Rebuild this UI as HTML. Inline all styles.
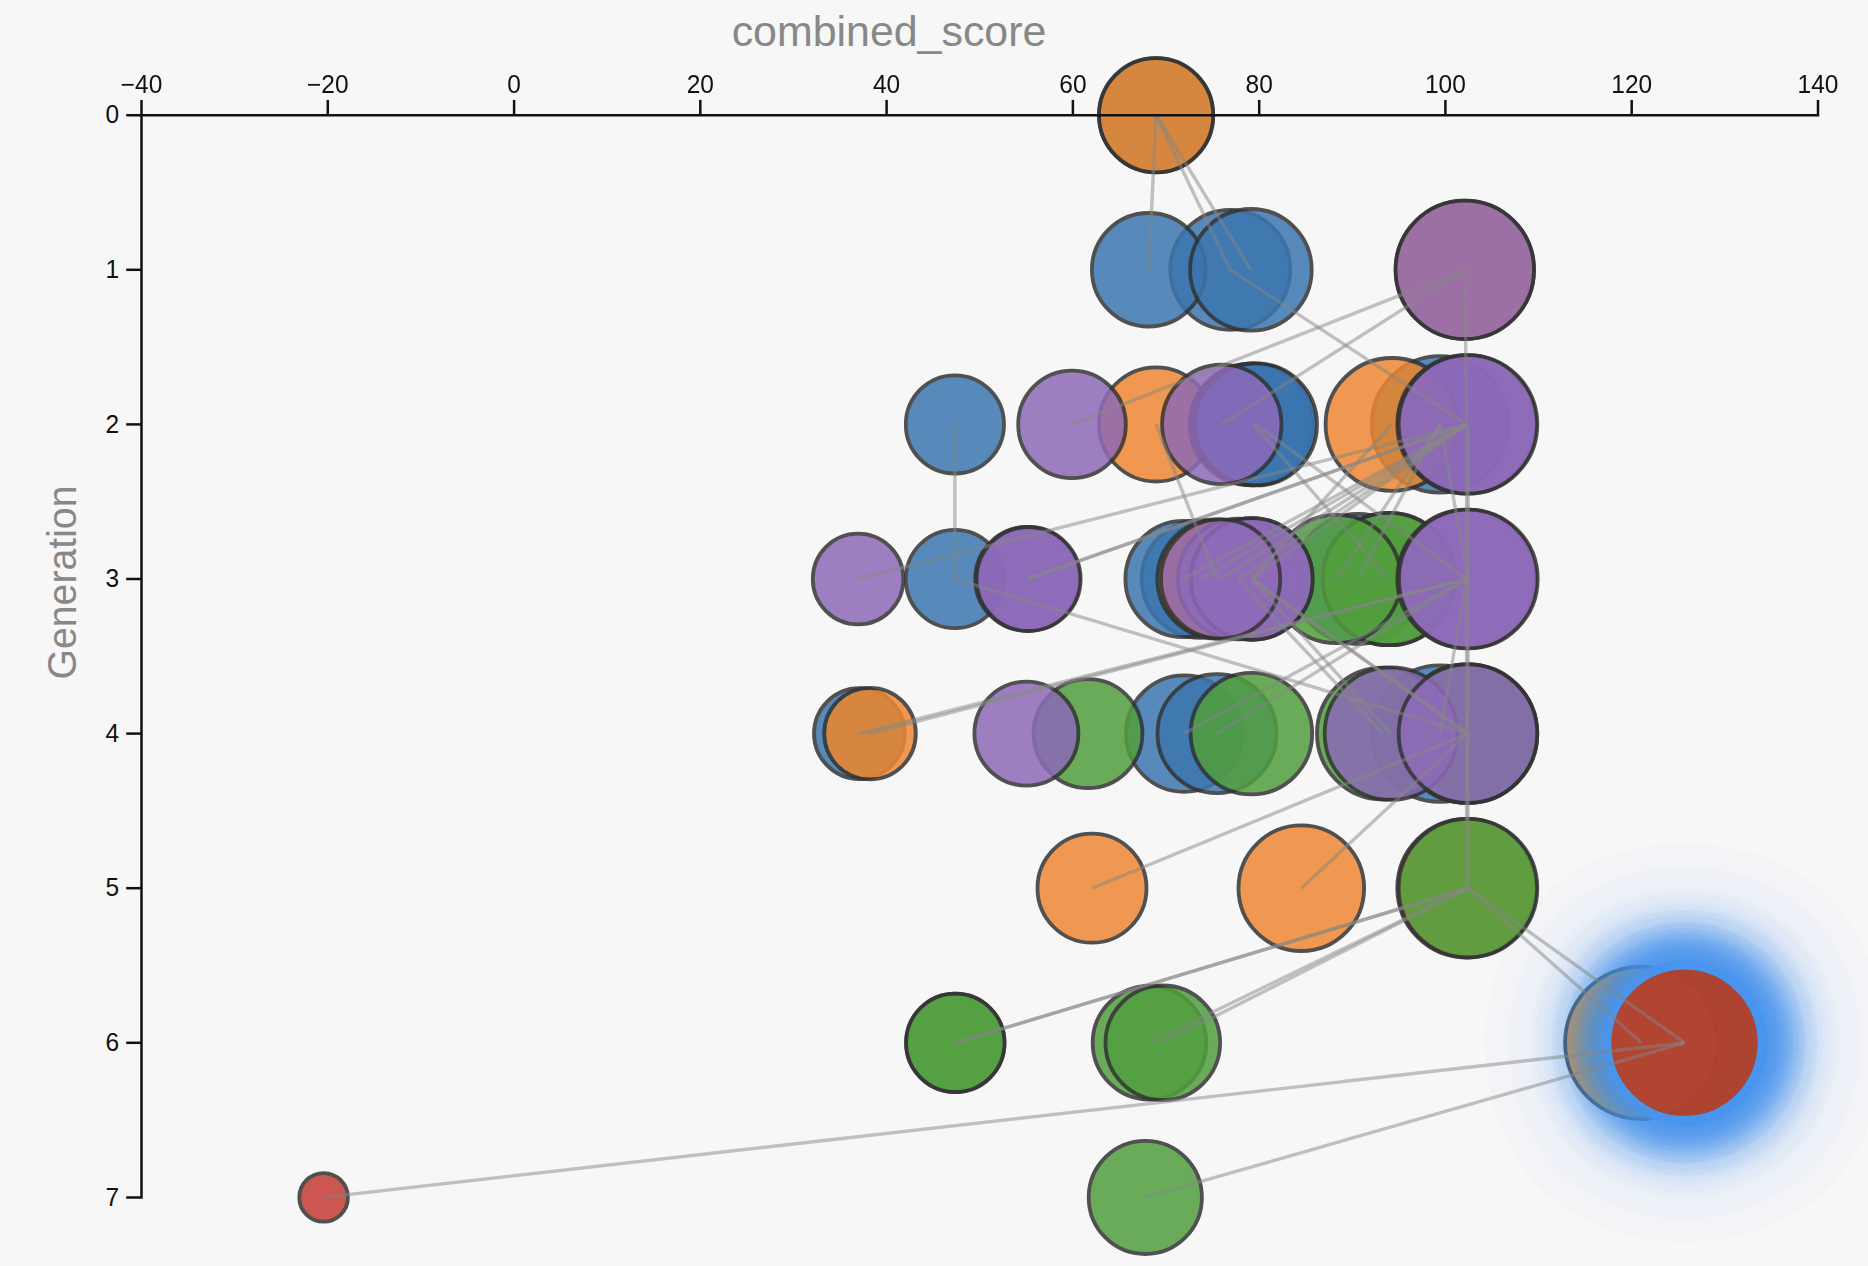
<!DOCTYPE html>
<html><head><meta charset="utf-8"><title>combined_score</title>
<style>
html,body{margin:0;padding:0;background:#f7f7f7;}
body{width:1868px;height:1266px;overflow:hidden;}
svg{display:block;font-family:"Liberation Sans",Arial,Helvetica,sans-serif;}
.tick{font-size:24.5px;fill:#111;}
.lab{font-size:42.9px;fill:#888;}
.node{stroke:#333;stroke-width:3.80;opacity:0.85;}
.edge{stroke:#888;stroke-width:3.40;opacity:0.5;}
.ax{stroke:#111;stroke-width:2.5;fill:none;}
</style></head><body>
<svg width="1868" height="1266" viewBox="0 0 1868 1266">
<defs>
<filter id="p3" x="0" y="0" width="1868" height="1266" filterUnits="userSpaceOnUse" color-interpolation-filters="linearRGB">
<feColorMatrix type="matrix" values="0.8224621 0.1775380 0 0 0  0.0331941 0.9668058 0 0 0  0.0170827 0.0723974 0.9105199 0 0  0 0 0 1 0"/>
</filter>
<filter id="glow" x="1200" y="600" width="900" height="900" filterUnits="userSpaceOnUse" color-interpolation-filters="sRGB">
<feGaussianBlur in="SourceAlpha" stdDeviation="24" result="b1"/>
<feFlood flood-color="#2196f3" result="fc"/>
<feComposite in="fc" in2="b1" operator="in" result="s1"/>
<feMerge result="m1"><feMergeNode in="s1"/><feMergeNode in="SourceGraphic"/></feMerge>
<feGaussianBlur in="m1" stdDeviation="26" result="b2"/>
<feComposite in="fc" in2="b2" operator="in" result="s2"/>
<feGaussianBlur in="SourceAlpha" stdDeviation="75" result="b3"/>
<feComponentTransfer in="b3" result="b3a"><feFuncA type="linear" slope="0.3"/></feComponentTransfer>
<feComposite in="fc" in2="b3a" operator="in" result="s3"/>
<feMerge><feMergeNode in="s3"/><feMergeNode in="s2"/><feMergeNode in="m1"/></feMerge>
</filter>
</defs>
<rect width="1868" height="1266" fill="#f7f7f7"/>
<g filter="url(#p3)">

<circle class="node" cx="1156.1" cy="115.2" r="57.1" fill="#1f77b4"/>
<circle class="node" cx="1156.1" cy="115.2" r="57.1" fill="#ff7f0e"/>
<circle class="node" cx="1230.3" cy="269.8" r="60.0" fill="#1f77b4"/>
<circle class="node" cx="1148.7" cy="269.8" r="56.8" fill="#1f77b4"/>
<circle class="node" cx="1250.9" cy="269.8" r="60.8" fill="#1f77b4"/>
<circle class="node" cx="1464.8" cy="269.8" r="69.2" fill="#ff7f0e"/>
<circle class="node" cx="1464.8" cy="269.8" r="69.2" fill="#9467bd"/>
<circle class="node" cx="954.9" cy="424.4" r="49.1" fill="#1f77b4"/>
<circle class="node" cx="1156.1" cy="424.4" r="57.1" fill="#ff7f0e"/>
<circle class="node" cx="1072.0" cy="424.4" r="53.8" fill="#9467bd"/>
<circle class="node" cx="1250.5" cy="424.4" r="60.8" fill="#1f77b4"/>
<circle class="node" cx="1253.5" cy="424.4" r="60.9" fill="#1f77b4"/>
<circle class="node" cx="1256.0" cy="424.4" r="61.0" fill="#1f77b4"/>
<circle class="node" cx="1221.8" cy="424.4" r="59.7" fill="#9467bd"/>
<circle class="node" cx="1440.0" cy="424.4" r="68.2" fill="#1f77b4"/>
<circle class="node" cx="1392.0" cy="424.4" r="66.4" fill="#ff7f0e"/>
<circle class="node" cx="1466.6" cy="424.4" r="69.3" fill="#9467bd"/>
<circle class="node" cx="1468.0" cy="424.4" r="69.3" fill="#9467bd"/>
<circle class="node" cx="858.1" cy="579.0" r="45.3" fill="#9467bd"/>
<circle class="node" cx="954.9" cy="579.0" r="49.1" fill="#1f77b4"/>
<circle class="node" cx="1027.2" cy="579.0" r="52.0" fill="#9467bd"/>
<circle class="node" cx="1028.6" cy="579.0" r="52.0" fill="#9467bd"/>
<circle class="node" cx="1200.5" cy="579.0" r="58.8" fill="#1f77b4"/>
<circle class="node" cx="1183.5" cy="579.0" r="58.1" fill="#1f77b4"/>
<circle class="node" cx="1358.0" cy="579.0" r="65.0" fill="#1f77b4"/>
<circle class="node" cx="1389.0" cy="579.0" r="66.2" fill="#2ca02c"/>
<circle class="node" cx="1389.0" cy="579.0" r="66.2" fill="#2ca02c"/>
<circle class="node" cx="1336.5" cy="579.0" r="64.2" fill="#2ca02c"/>
<circle class="node" cx="1216.8" cy="579.0" r="59.5" fill="#ff7f0e"/>
<circle class="node" cx="1238.3" cy="579.0" r="60.3" fill="#9467bd"/>
<circle class="node" cx="1251.8" cy="579.0" r="60.8" fill="#9467bd"/>
<circle class="node" cx="1251.8" cy="579.0" r="60.8" fill="#9467bd"/>
<circle class="node" cx="1220.6" cy="579.0" r="59.6" fill="#9467bd"/>
<circle class="node" cx="1466.6" cy="579.0" r="69.3" fill="#9467bd"/>
<circle class="node" cx="1468.3" cy="579.0" r="69.4" fill="#9467bd"/>
<circle class="node" cx="859.4" cy="733.6" r="45.4" fill="#1f77b4"/>
<circle class="node" cx="870.0" cy="733.6" r="45.8" fill="#ff7f0e"/>
<circle class="node" cx="1184.2" cy="733.6" r="58.2" fill="#1f77b4"/>
<circle class="node" cx="1088.0" cy="733.6" r="54.4" fill="#2ca02c"/>
<circle class="node" cx="1026.4" cy="733.6" r="52.0" fill="#9467bd"/>
<circle class="node" cx="1217.0" cy="733.6" r="59.5" fill="#1f77b4"/>
<circle class="node" cx="1251.4" cy="733.6" r="60.8" fill="#2ca02c"/>
<circle class="node" cx="1440.0" cy="733.6" r="68.2" fill="#1f77b4"/>
<circle class="node" cx="1466.6" cy="733.6" r="69.3" fill="#9467bd"/>
<circle class="node" cx="1468.0" cy="733.6" r="69.3" fill="#2ca02c"/>
<circle class="node" cx="1383.0" cy="733.6" r="66.0" fill="#2ca02c"/>
<circle class="node" cx="1391.0" cy="733.6" r="66.3" fill="#9467bd"/>
<circle class="node" cx="1468.0" cy="733.6" r="69.3" fill="#9467bd"/>
<circle class="node" cx="1092.0" cy="888.2" r="54.5" fill="#ff7f0e"/>
<circle class="node" cx="1301.3" cy="888.2" r="62.8" fill="#ff7f0e"/>
<circle class="node" cx="1466.6" cy="888.2" r="69.3" fill="#ff7f0e"/>
<circle class="node" cx="1468.0" cy="888.2" r="69.3" fill="#2ca02c"/>
<circle class="node" cx="955.3" cy="1042.8" r="49.2" fill="#2ca02c"/>
<circle class="node" cx="955.3" cy="1042.8" r="49.2" fill="#2ca02c"/>
<circle class="node" cx="1149.5" cy="1042.8" r="56.8" fill="#2ca02c"/>
<circle class="node" cx="1162.8" cy="1042.8" r="57.3" fill="#2ca02c"/>
<g opacity="0.85"><circle filter="url(#glow)" cx="1684.5" cy="1042.8" r="77.9" fill="#2ca02c" stroke="#2196f3" stroke-width="9.8"/></g>
<circle class="node" cx="1641.3" cy="1042.8" r="76.2" fill="#ff7f0e"/>
<g opacity="0.85"><circle filter="url(#glow)" cx="1684.5" cy="1042.8" r="77.9" fill="#2ca02c" stroke="#2196f3" stroke-width="9.8"/></g>
<g opacity="0.85"><circle filter="url(#glow)" cx="1684.5" cy="1042.8" r="77.9" fill="#d62728" stroke="#2196f3" stroke-width="9.8"/></g>
<circle class="node" cx="323.6" cy="1197.4" r="24.3" fill="#d62728"/>
<circle class="node" cx="1145.3" cy="1197.4" r="56.6" fill="#2ca02c"/>
<line class="edge" x1="1148.7" y1="269.8" x2="1156.1" y2="115.2"/>
<line class="edge" x1="1230.3" y1="269.8" x2="1156.1" y2="115.2"/>
<line class="edge" x1="1250.9" y1="269.8" x2="1156.1" y2="115.2"/>
<line class="edge" x1="1072.0" y1="424.4" x2="1464.8" y2="269.8"/>
<line class="edge" x1="1221.8" y1="424.4" x2="1464.8" y2="269.8"/>
<line class="edge" x1="1466.6" y1="424.4" x2="1464.8" y2="269.8"/>
<line class="edge" x1="1466.6" y1="424.4" x2="1230.3" y2="269.8"/>
<line class="edge" x1="858.1" y1="579.0" x2="1466.6" y2="424.4"/>
<line class="edge" x1="954.9" y1="579.0" x2="954.9" y2="424.4"/>
<line class="edge" x1="1027.2" y1="579.0" x2="1466.6" y2="424.4"/>
<line class="edge" x1="1028.6" y1="579.0" x2="1466.6" y2="424.4"/>
<line class="edge" x1="1183.5" y1="579.0" x2="1466.6" y2="424.4"/>
<line class="edge" x1="1200.5" y1="579.0" x2="1466.6" y2="424.4"/>
<line class="edge" x1="1216.8" y1="579.0" x2="1156.1" y2="424.4"/>
<line class="edge" x1="1220.6" y1="579.0" x2="1466.6" y2="424.4"/>
<line class="edge" x1="1238.3" y1="579.0" x2="1466.6" y2="424.4"/>
<line class="edge" x1="1251.8" y1="579.0" x2="1392.0" y2="424.4"/>
<line class="edge" x1="1251.8" y1="579.0" x2="1466.6" y2="424.4"/>
<line class="edge" x1="1336.5" y1="579.0" x2="1440.0" y2="424.4"/>
<line class="edge" x1="1358.0" y1="579.0" x2="1440.0" y2="424.4"/>
<line class="edge" x1="1389.0" y1="579.0" x2="1253.5" y2="424.4"/>
<line class="edge" x1="1466.6" y1="579.0" x2="1466.6" y2="424.4"/>
<line class="edge" x1="1468.3" y1="579.0" x2="1468.0" y2="424.4"/>
<line class="edge" x1="1468.3" y1="579.0" x2="1440.0" y2="424.4"/>
<line class="edge" x1="1466.6" y1="579.0" x2="1256.0" y2="424.4"/>
<line class="edge" x1="859.4" y1="733.6" x2="1466.6" y2="579.0"/>
<line class="edge" x1="870.0" y1="733.6" x2="1466.6" y2="579.0"/>
<line class="edge" x1="1184.2" y1="733.6" x2="1466.6" y2="579.0"/>
<line class="edge" x1="1217.0" y1="733.6" x2="1466.6" y2="579.0"/>
<line class="edge" x1="1383.0" y1="733.6" x2="1238.3" y2="579.0"/>
<line class="edge" x1="1391.0" y1="733.6" x2="1251.8" y2="579.0"/>
<line class="edge" x1="1440.0" y1="733.6" x2="1466.6" y2="579.0"/>
<line class="edge" x1="1468.0" y1="733.6" x2="1468.3" y2="579.0"/>
<line class="edge" x1="1466.6" y1="733.6" x2="1466.6" y2="579.0"/>
<line class="edge" x1="1468.0" y1="733.6" x2="1251.8" y2="579.0"/>
<line class="edge" x1="1466.6" y1="733.6" x2="1251.8" y2="579.0"/>
<line class="edge" x1="1468.0" y1="733.6" x2="954.9" y2="579.0"/>
<line class="edge" x1="1092.0" y1="888.2" x2="1468.0" y2="733.6"/>
<line class="edge" x1="1301.3" y1="888.2" x2="1468.0" y2="733.6"/>
<line class="edge" x1="1468.0" y1="888.2" x2="1468.0" y2="733.6"/>
<line class="edge" x1="1466.6" y1="888.2" x2="1466.6" y2="733.6"/>
<line class="edge" x1="955.3" y1="1042.8" x2="1468.0" y2="888.2"/>
<line class="edge" x1="955.3" y1="1042.8" x2="1468.0" y2="888.2"/>
<line class="edge" x1="1149.5" y1="1042.8" x2="1468.0" y2="888.2"/>
<line class="edge" x1="1162.8" y1="1042.8" x2="1468.0" y2="888.2"/>
<line class="edge" x1="1641.3" y1="1042.8" x2="1468.0" y2="888.2"/>
<line class="edge" x1="1684.5" y1="1042.8" x2="1468.0" y2="888.2"/>
<line class="edge" x1="323.6" y1="1197.4" x2="1684.5" y2="1042.8"/>
<line class="edge" x1="1145.3" y1="1197.4" x2="1684.5" y2="1042.8"/>
</g>
<g>
<path class="ax" d="M141.5,99.9 V115.2 H1818.0 V99.9"/>
<text class="tick" transform="translate(141.5,92.9) scale(1,1.03)" text-anchor="middle">−40</text>
<line class="ax" x1="327.8" y1="115.2" x2="327.8" y2="99.9"/>
<text class="tick" transform="translate(327.8,92.9) scale(1,1.03)" text-anchor="middle">−20</text>
<line class="ax" x1="514.1" y1="115.2" x2="514.1" y2="99.9"/>
<text class="tick" transform="translate(514.1,92.9) scale(1,1.03)" text-anchor="middle">0</text>
<line class="ax" x1="700.3" y1="115.2" x2="700.3" y2="99.9"/>
<text class="tick" transform="translate(700.3,92.9) scale(1,1.03)" text-anchor="middle">20</text>
<line class="ax" x1="886.6" y1="115.2" x2="886.6" y2="99.9"/>
<text class="tick" transform="translate(886.6,92.9) scale(1,1.03)" text-anchor="middle">40</text>
<line class="ax" x1="1072.9" y1="115.2" x2="1072.9" y2="99.9"/>
<text class="tick" transform="translate(1072.9,92.9) scale(1,1.03)" text-anchor="middle">60</text>
<line class="ax" x1="1259.2" y1="115.2" x2="1259.2" y2="99.9"/>
<text class="tick" transform="translate(1259.2,92.9) scale(1,1.03)" text-anchor="middle">80</text>
<line class="ax" x1="1445.4" y1="115.2" x2="1445.4" y2="99.9"/>
<text class="tick" transform="translate(1445.4,92.9) scale(1,1.03)" text-anchor="middle">100</text>
<line class="ax" x1="1631.7" y1="115.2" x2="1631.7" y2="99.9"/>
<text class="tick" transform="translate(1631.7,92.9) scale(1,1.03)" text-anchor="middle">120</text>
<text class="tick" transform="translate(1818.0,92.9) scale(1,1.03)" text-anchor="middle">140</text>
<path class="ax" d="M126.2,115.2 H141.5 V1197.4 H126.2"/>
<text class="tick" transform="translate(119.2,123.3) scale(1,1.05)" text-anchor="end">0</text>
<line class="ax" x1="141.5" y1="269.8" x2="126.2" y2="269.8"/>
<text class="tick" transform="translate(119.2,277.9) scale(1,1.05)" text-anchor="end">1</text>
<line class="ax" x1="141.5" y1="424.4" x2="126.2" y2="424.4"/>
<text class="tick" transform="translate(119.2,432.5) scale(1,1.05)" text-anchor="end">2</text>
<line class="ax" x1="141.5" y1="579.0" x2="126.2" y2="579.0"/>
<text class="tick" transform="translate(119.2,587.1) scale(1,1.05)" text-anchor="end">3</text>
<line class="ax" x1="141.5" y1="733.6" x2="126.2" y2="733.6"/>
<text class="tick" transform="translate(119.2,741.7) scale(1,1.05)" text-anchor="end">4</text>
<line class="ax" x1="141.5" y1="888.2" x2="126.2" y2="888.2"/>
<text class="tick" transform="translate(119.2,896.3) scale(1,1.05)" text-anchor="end">5</text>
<line class="ax" x1="141.5" y1="1042.8" x2="126.2" y2="1042.8"/>
<text class="tick" transform="translate(119.2,1050.9) scale(1,1.05)" text-anchor="end">6</text>
<text class="tick" transform="translate(119.2,1205.5) scale(1,1.05)" text-anchor="end">7</text>
<text class="lab" x="889" y="46.4" text-anchor="middle">combined_score</text>
<text class="lab" style="font-size:39.2px" transform="translate(75.9,582.5) rotate(-90) scale(1,1.055)" text-anchor="middle">Generation</text>
</g>
</svg></body></html>
